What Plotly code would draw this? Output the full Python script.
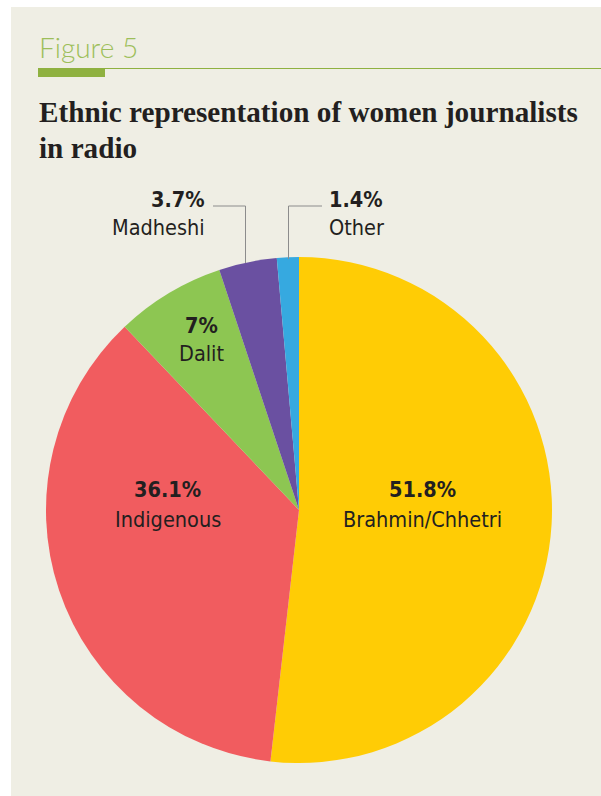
import plotly.graph_objects as go

# ---- data ----
labels = ["Brahmin/Chhetri", "Indigenous", "Dalit", "Madheshi", "Other"]
values = [51.8, 36.1, 7, 3.7, 1.4]
colors = ["#FFCC05", "#F15C5F", "#8DC652", "#6A50A1", "#36A9E0"]

W, H = 601, 796
BG = "#EFEEE4"
GREEN = "#8FB140"
LABEL_FONT = "DejaVu Sans Condensed, Roboto, sans-serif"
LS = 21.5


def px(x):
    return x / W


def py(y):
    return 1 - y / H


cx, cy, r = 299, 510, 253

fig = go.Figure(go.Pie(
    labels=labels,
    values=values,
    sort=False,
    direction="clockwise",
    rotation=0,
    textinfo="none",
    marker=dict(colors=colors, line=dict(width=0)),
    showlegend=False,
    domain=dict(x=[px(cx - r), px(cx + r)], y=[py(cy + r), py(cy - r)]),
))

shapes = [
    dict(type="rect", xref="paper", yref="paper", x0=px(11), x1=1, y0=0, y1=py(7),
         fillcolor=BG, line=dict(width=0), layer="below"),
    dict(type="line", xref="paper", yref="paper", x0=px(38), x1=1, y0=py(68.5), y1=py(68.5),
         line=dict(color=GREEN, width=1.2)),
    dict(type="rect", xref="paper", yref="paper", x0=px(38), x1=px(105), y0=py(77), y1=py(68),
         fillcolor=GREEN, line=dict(width=0)),
    dict(type="path", xref="paper", yref="paper",
         path=f"M {px(213)},{py(206)} L {px(245.5)},{py(206)} L {px(245.5)},{py(263)}",
         line=dict(color="#8C8C8C", width=1)),
    dict(type="path", xref="paper", yref="paper",
         path=f"M {px(322)},{py(206)} L {px(288.5)},{py(206)} L {px(288.5)},{py(259)}",
         line=dict(color="#8C8C8C", width=1)),
]


def pct(v):
    return f"{v:g}%"


annotations = [
    dict(text="Figure 5", x=px(37), y=py(47), xanchor="left", yanchor="middle",
         font=dict(family="Lato, Open Sans, sans-serif", size=28, color="#9DBE5A", weight=300)),
    dict(text="<b>Ethnic representation of women journalists</b>", x=px(37), y=py(112),
         xanchor="left", yanchor="middle",
         font=dict(family="Liberation Serif, serif", size=29.2, color="#231F20")),
    dict(text="<b>in radio</b>", x=px(37), y=py(148), xanchor="left", yanchor="middle",
         font=dict(family="Liberation Serif, serif", size=29.2, color="#231F20")),
]

label_pos = [
    (422, 489, 519, "center"),
    (168, 489, 519, "center"),
    (201, 325, 353, "center"),
    (207, 200, 227, "right"),
    (327, 200, 227, "left"),
]
for lab, val, (x, yb, yr, xa) in zip(labels, values, label_pos):
    annotations.append(dict(text=f"<b>{pct(val)}</b>", x=px(x), y=py(yb), xanchor=xa,
                            yanchor="middle", font=dict(family=LABEL_FONT, size=LS, color="#231F20")))
    annotations.append(dict(text=lab, x=px(x), y=py(yr), xanchor=xa, yanchor="middle",
                            font=dict(family=LABEL_FONT, size=LS, color="#231F20")))

for a in annotations:
    a.update(xref="paper", yref="paper", showarrow=False)

fig.update_layout(
    width=W, height=H,
    margin=dict(l=0, r=0, t=0, b=0),
    paper_bgcolor="white",
    plot_bgcolor="white",
    shapes=shapes,
    annotations=annotations,
)

fig.write_html("out.html")
